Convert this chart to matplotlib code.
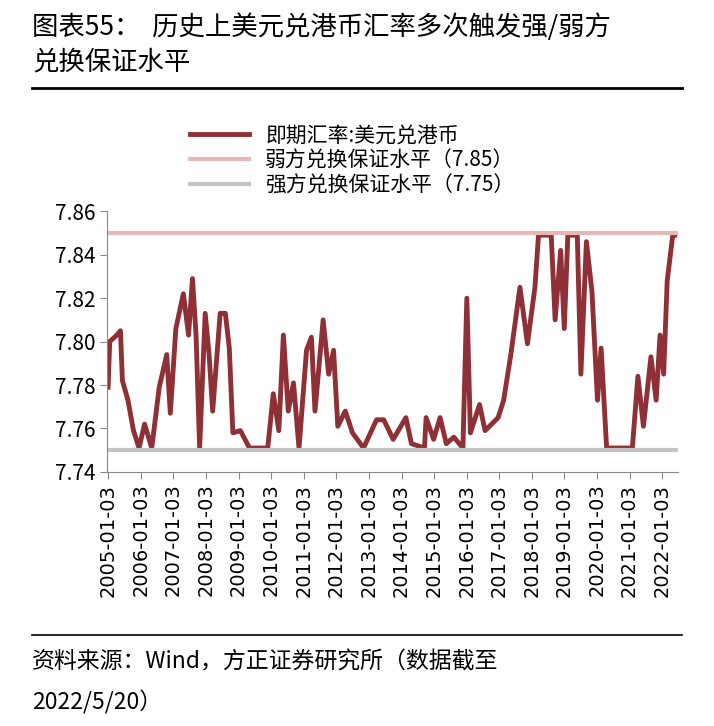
import matplotlib.pyplot as plt
import numpy as np

plt.rcParams['font.family'] = ['Noto Sans CJK SC', 'DejaVu Sans']

# year offsets from 2005 and USD/HKD spot rate
t = [0.0, 0.05, 0.27, 0.38, 0.44, 0.61, 0.78, 0.95, 1.12, 1.34, 1.57, 1.80, 1.91,
     2.08, 2.31, 2.47, 2.59, 2.70, 2.81, 2.98, 3.10, 3.21, 3.44, 3.60, 3.72, 3.83,
     4.06, 4.34, 4.90, 5.07, 5.24, 5.38, 5.53, 5.69, 5.86, 6.09, 6.24, 6.35, 6.60,
     6.77, 6.92, 7.05, 7.28, 7.50, 7.84, 8.24, 8.46, 8.75, 9.14, 9.31, 9.71, 9.76,
     9.99, 10.19, 10.38, 10.61, 10.89, 11.01, 11.12, 11.40, 11.57, 11.97, 12.14,
     12.36, 12.64, 12.87, 13.10, 13.21, 13.60, 13.72, 13.89, 14.00, 14.11, 14.40,
     14.51, 14.68, 14.85, 15.02, 15.13, 15.30, 16.09, 16.26, 16.43, 16.66, 16.82,
     16.94, 17.05, 17.16, 17.33, 17.39]
rate = [7.779, 7.800, 7.803, 7.805, 7.782, 7.773, 7.759, 7.751, 7.762, 7.751, 7.779, 7.794, 7.767,
        7.806, 7.822, 7.803, 7.829, 7.803, 7.751, 7.813, 7.794, 7.768, 7.813, 7.813, 7.797, 7.758,
        7.759, 7.751, 7.751, 7.776, 7.759, 7.803, 7.768, 7.781, 7.751, 7.796, 7.802, 7.768, 7.810,
        7.785, 7.796, 7.761, 7.768, 7.758, 7.751, 7.764, 7.764, 7.755, 7.765, 7.753, 7.751, 7.765,
        7.755, 7.765, 7.753, 7.756, 7.751, 7.820, 7.758, 7.771, 7.759, 7.765, 7.773,
        7.794, 7.825, 7.799, 7.825, 7.849, 7.849, 7.810, 7.842, 7.806, 7.849, 7.849,
        7.785, 7.846, 7.823, 7.773, 7.797, 7.751, 7.751, 7.784, 7.761, 7.793, 7.773,
        7.803, 7.785, 7.828, 7.849, 7.849]
years = list(range(2005, 2023))
weak, strong = 7.85, 7.75

x = 2005 + np.array(t)

fig = plt.figure(figsize=(7.14, 7.26), dpi=100)
fig.text(0.045, 0.963, '图表55：  历史上美元兑港币汇率多次触发强/弱方', fontsize=19, va='center')
fig.text(0.045, 0.915, '兑换保证水平', fontsize=19, va='center')
fig.add_artist(plt.Line2D([0.045, 0.955], [0.879, 0.879], color='black', lw=2))
fig.add_artist(plt.Line2D([0.045, 0.955], [0.125, 0.125], color='black', lw=1.2))
fig.text(0.045, 0.088, '资料来源：Wind，方正证券研究所（数据截至', fontsize=16.5, style='italic', va='center')
fig.text(0.045, 0.033, '2022/5/20）', fontsize=16.5, style='italic', va='center')

ax = fig.add_axes([0.150, 0.350, 0.800, 0.359])
ax.plot(x, rate, color='#8E3035', lw=3.5, label='即期汇率:美元兑港币')
ax.axhline(weak, color='#E8B8B8', lw=3, label='弱方兑换保证水平（7.85）')
ax.axhline(strong, color='#C4C4C4', lw=3, label='强方兑换保证水平（7.75）')
ax.set_xlim(2004.97, 2022.5)
ax.set_ylim(7.74, 7.86)
ax.set_yticks([7.74, 7.76, 7.78, 7.80, 7.82, 7.84, 7.86])
ax.set_yticklabels(['%.2f' % v for v in ax.get_yticks()], fontsize=15)
ax.set_xticks([y + 2 / 365 for y in years])
ax.set_xticklabels(['%d-01-03' % y for y in years], rotation=90, fontsize=14,
                   family=['DejaVu Sans'])
for s in ['top', 'right']:
    ax.spines[s].set_visible(False)
for s in ['left', 'bottom']:
    ax.spines[s].set_color('#888888')
ax.tick_params(colors='#888888', labelcolor='black', length=5)
ax.legend(loc='lower left', bbox_to_anchor=(0.12, 1.0), frameon=False, fontsize=15,
          handlelength=2.8, labelspacing=0.15, borderaxespad=0.3)

fig.savefig('out.png')
